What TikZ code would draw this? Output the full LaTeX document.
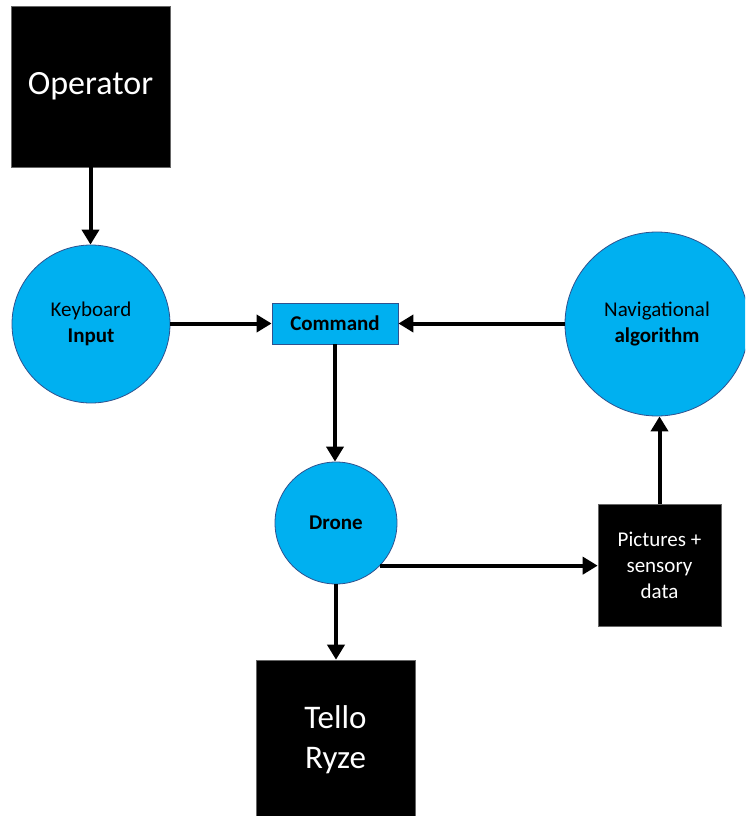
\documentclass[tikz,border=0pt]{standalone}
\usepackage{fontspec}
\setmainfont{Carlito}
\usetikzlibrary{arrows.meta}
\definecolor{skyfill}{HTML}{00B0F0}
\definecolor{skyline}{HTML}{2F528F}

\begin{document}
\begin{tikzpicture}[x=1pt,y=-1pt,
  blackbox/.style={fill=black,draw=black!60,line width=0.6pt,text=white,align=center,inner sep=0pt},
  bluedisc/.style={circle,fill=skyfill,draw=skyline,line width=0.8pt,align=center,inner sep=0pt,font=\fontsize{21}{26}\selectfont},
  flow/.style={line width=4pt,-{Triangle[width=17pt,length=15pt]}}]
\useasboundingbox (0,0) rectangle (745,816);
\begin{scope}
\clip (0,0) rectangle (745,816);
\node[blackbox,minimum width=159pt,minimum height=161pt,font=\fontsize{34}{40}\selectfont] (operator) at (90.5,86.5) {Operator};
\node[bluedisc,minimum size=158pt] (keyboard) at (91,324) {Keyboard\\\textbf{Input}};
\node[fill=skyfill,draw=skyline,line width=0.8pt,minimum width=126pt,minimum height=41pt,inner sep=0pt,font=\fontsize{21}{26}\selectfont\bfseries] (command) at (335,323.5) {Command};
\node[bluedisc,minimum size=184pt] (nav) at (657,324) {Navigational\\\textbf{algorithm}};
\node[bluedisc,minimum size=122pt,font=\fontsize{21}{26}\selectfont\bfseries] (drone) at (336,523) {Drone};
\node[blackbox,minimum width=123pt,minimum height=122pt,font=\fontsize{21}{26}\selectfont] (pictures) at (659.5,565) {Pictures +\\sensory\\data};
\node[blackbox,minimum width=159pt,minimum height=160pt,font=\fontsize{33}{40}\selectfont] (tello) at (335.5,740) {Tello\\Ryze};
\end{scope}
\draw[flow] (operator.south) -- (operator.south |- keyboard.north);
\draw[flow] (keyboard.east |- command.west) -- (command.west);
\draw[flow] (nav.west |- command.east) -- (command.east);
\draw[flow] (command.south) -- (command.south |- drone.north);
\draw[flow] (drone.-44) -- (drone.-44 -| pictures.west);
\draw[flow] (pictures.north) -- (pictures.north |- nav.south);
\draw[flow] (drone.south) -- (drone.south |- tello.north);
\end{tikzpicture}
\end{document}
